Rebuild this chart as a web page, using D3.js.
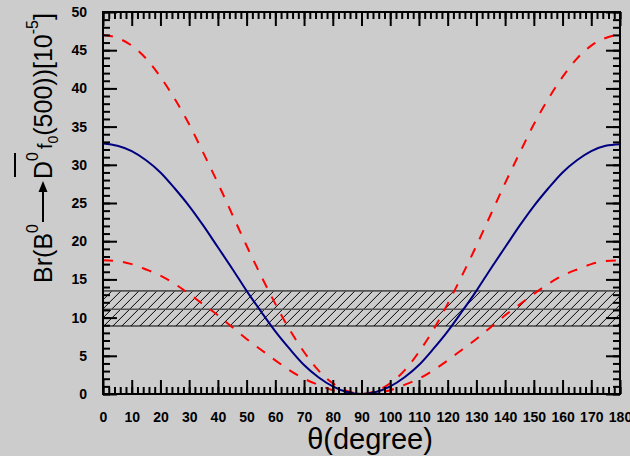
<!DOCTYPE html>
<html><head><meta charset="utf-8">
<script src="https://cdn.jsdelivr.net/npm/d3@7"></script>
<style>
html,body{margin:0;padding:0;background:#cccccc;}
svg{display:block;font-family:"Liberation Sans",Arial,sans-serif;}
</style></head>
<body>
<svg id="chart" width="630" height="456"></svg>
<script>
// ---- data ----
const theta = [0,5,10,15,20,25,30,35,40,45,50,55,60,65,70,75,80,85,90,95,100,105,110,115,120,125,130,135,140,145,150,155,160,165,170,175,180];
const blueCentral = [32.8,32.5,31.8,30.6,29.0,26.9,24.6,22.0,19.2,16.4,13.5,10.8,8.2,5.9,3.8,2.2,1.0,0.25,0,0.25,1.0,2.2,3.8,5.9,8.2,10.8,13.5,16.4,19.2,22.0,24.6,26.9,29.0,30.6,31.8,32.5,32.7];
const redUpper = [47.0,46.6,45.6,43.9,41.5,38.6,35.3,31.5,27.6,23.5,19.4,15.5,11.8,8.4,5.5,3.1,1.4,0.4,0,0.4,1.4,3.1,5.5,8.4,11.8,15.5,19.4,23.5,27.6,31.5,35.3,38.6,41.5,43.9,45.6,46.6,47.1];
const redLower = [17.5,17.4,17.0,16.3,15.5,14.4,13.1,11.7,10.3,8.75,7.2,5.8,4.4,3.1,2.0,1.2,0.5,0.1,0,0.1,0.5,1.2,2.0,3.1,4.4,5.8,7.2,8.75,10.3,11.7,13.1,14.4,15.5,16.3,17.0,17.4,17.5];
const band = {low: 8.9, mid: 11.1, high: 13.5};
const xTicks = [0,10,20,30,40,50,60,70,80,90,100,110,120,130,140,150,160,170,180];
const yTicks = [0,5,10,15,20,25,30,35,40,45,50];

// ---- layout ----
const svg = d3.select('#chart');
const L = 103, R = 620, T = 12, B = 394;
const x = d3.scaleLinear().domain([0,180]).range([L,R]);
const y = d3.scaleLinear().domain([0,50]).range([B,T]);

// hatched band
const defs = svg.append('defs');
const pat = defs.append('pattern').attr('id','hatch').attr('patternUnits','userSpaceOnUse')
  .attr('width',9).attr('height',9).attr('x', L).attr('y', y(band.high));
pat.append('path').attr('d','M-1,10 L10,-1 M-2,2 L2,-2 M7,11 L11,7').attr('stroke','#000').attr('stroke-width',1);
svg.append('rect').attr('x',x(0)).attr('y',y(band.high)).attr('width',x(180)-x(0)).attr('height',y(band.low)-y(band.high))
  .attr('fill','url(#hatch)');
svg.append('line').attr('x1',x(0)).attr('x2',x(180)).attr('y1',y(band.high)).attr('y2',y(band.high)).attr('stroke','#555').attr('stroke-width',1.6);
svg.append('line').attr('x1',x(0)).attr('x2',x(180)).attr('y1',y(band.mid)).attr('y2',y(band.mid)).attr('stroke','#555').attr('stroke-width',1.6);
svg.append('line').attr('x1',x(0)).attr('x2',x(180)).attr('y1',y(band.low)).attr('y2',y(band.low)).attr('stroke','#000').attr('stroke-width',1.2);

// curves
const line = d3.line().x((d,i)=>x(theta[i])).y(d=>y(d)).curve(d3.curveMonotoneX);
svg.append('path').datum(redUpper).attr('d',line).attr('fill','none').attr('stroke','#ff0000').attr('stroke-width',2).attr('stroke-dasharray','10,10');
svg.append('path').datum(redLower).attr('d',line).attr('fill','none').attr('stroke','#ff0000').attr('stroke-width',2).attr('stroke-dasharray','10,10');
svg.append('path').datum(blueCentral).attr('d',line).attr('fill','none').attr('stroke','#000080').attr('stroke-width',2);

// axes
const minorX = d3.range(0,181,2), minorY = d3.range(0,51,1);
function styleAxis(g){ g.select('.domain').remove(); g.selectAll('.tick line').attr('stroke','#000').attr('stroke-width',2); g.selectAll('text').attr('font-weight','bold').attr('font-size',14).attr('fill','#000'); }
svg.append('g').attr('transform',`translate(0,${B})`).call(d3.axisBottom(x).tickValues(minorX).tickSize(-7).tickFormat('')).call(styleAxis);
svg.append('g').attr('transform',`translate(0,${B})`).call(d3.axisBottom(x).tickValues(xTicks).tickSize(-14).tickPadding(18).tickFormat(d3.format('d'))).call(styleAxis);
svg.append('g').attr('transform',`translate(0,${T})`).call(d3.axisTop(x).tickValues(minorX).tickSize(-7).tickFormat('')).call(styleAxis);
svg.append('g').attr('transform',`translate(0,${T})`).call(d3.axisTop(x).tickValues(xTicks).tickSize(-14).tickFormat('')).call(styleAxis);
svg.append('g').attr('transform',`translate(${L},0)`).call(d3.axisLeft(y).tickValues(minorY).tickSize(-7).tickFormat('')).call(styleAxis);
svg.append('g').attr('transform',`translate(${L},0)`).call(d3.axisLeft(y).tickValues(yTicks).tickSize(-14).tickPadding(16).tickFormat(d3.format('d'))).call(styleAxis);
svg.append('g').attr('transform',`translate(${R},0)`).call(d3.axisRight(y).tickValues(minorY).tickSize(-7).tickFormat('')).call(styleAxis);
svg.append('g').attr('transform',`translate(${R},0)`).call(d3.axisRight(y).tickValues(yTicks).tickSize(-14).tickFormat('')).call(styleAxis);
svg.append('rect').attr('x',L).attr('y',T).attr('width',R-L).attr('height',B-T).attr('fill','none').attr('stroke','#000').attr('stroke-width',2);

// x label
svg.append('text').attr('x',370).attr('y',449).attr('text-anchor','middle').attr('font-size',29).attr('fill','#000').text('θ(degree)');

// y label built piecewise (rotated)
const yl = svg.append('g');
let cx = 0;
function piece(txt,size,dy){ const t = yl.append('text').attr('x',cx).attr('y',dy).attr('font-size',size).attr('fill','#000').text(txt); const w = t.node().getComputedTextLength(); const r={x0:cx,w:w}; cx+=w; return r; }
piece('Br(B',25,0);
piece('0',16,-14);
cx += 2;
yl.append('line').attr('x1',cx).attr('x2',cx+32).attr('y1',-9).attr('y2',-9).attr('stroke','#000').attr('stroke-width',2);
yl.append('path').attr('d',`M${cx+30},-13.5 L${cx+41},-9 L${cx+30},-4.5 Z`).attr('fill','#000');
cx += 43;
const dP = piece('D',25,0);
const s0 = piece('0',16,-14);
yl.append('line').attr('x1',dP.x0+2).attr('x2',s0.x0+s0.w-1).attr('y1',-37).attr('y2',-37).attr('stroke','#000').attr('stroke-width',2);
cx += 3;
piece('f',20,0);
piece('0',14,6);
piece('(500))[10',25,0);
piece('-5',16,-14);
piece(']',25,0);
yl.attr('transform',`translate(52,${148+cx/2}) rotate(-90)`);
</script>
</body></html>
